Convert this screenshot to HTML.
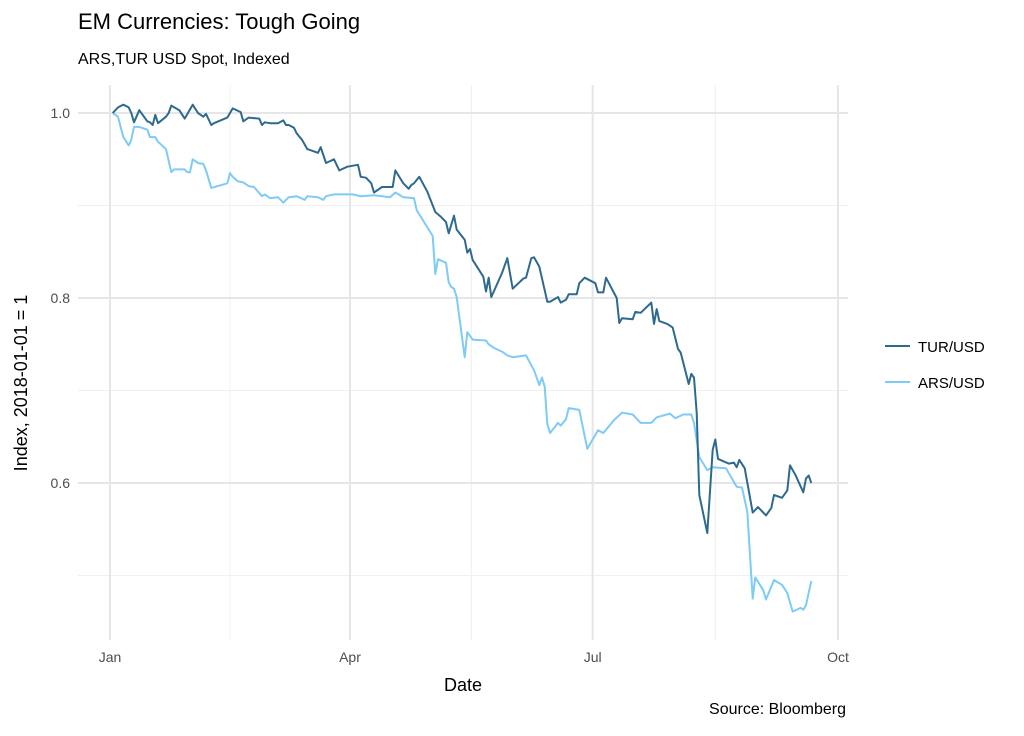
<!DOCTYPE html>
<html><head><meta charset="utf-8"><style>
body{margin:0;background:#fff;font-family:"Liberation Sans",sans-serif}
svg text{font-family:"Liberation Sans",sans-serif}
</style></head><body>
<svg width="1024" height="731" viewBox="0 0 1024 731">
<text x="78" y="29" font-size="22" fill="#000">EM Currencies: Tough Going</text>
<text x="78" y="64" font-size="16" fill="#000">ARS,TUR USD Spot, Indexed</text>
<g id="grid"></g>
<g id="axes"></g>
<g id="series"></g>
<text x="463" y="691" font-size="18" text-anchor="middle">Date</text>
<text transform="translate(27,383) rotate(-90)" font-size="18" text-anchor="middle">Index, 2018-01-01 = 1</text>
<text x="846" y="714" font-size="16" text-anchor="end">Source: Bloomberg</text>
<g>
<g><line x1="885" y1="346" x2="910" y2="346" stroke="#2e6a8e" stroke-width="2"/><text x="918" y="352" font-size="15">TUR/USD</text></g>
<g><line x1="885" y1="382" x2="910" y2="382" stroke="#7ecbf5" stroke-width="2"/><text x="918" y="388" font-size="15">ARS/USD</text></g>
</g>
</svg>
<script>
const turDays=[1,3,5,7,8,9,11,14,15,16,17,18,21,22,23,26,28,31,33,35,36,38,39,44,46,49,50,52,56,57,58,60,63,65,66,67,69,70,72,74,78,79,81,84,86,89,93,94,96,98,99,102,106,107,110,112,113,114,116,119,122,124,126,127,129,130,133,134,135,136,140,141,142,143,147,149,151,155,156,158,159,161,164,165,168,169,171,172,175,176,178,182,183,185,186,190,191,192,196,197,199,203,204,205,206,209,211,213,214,217,218,219,220,221,224,226,227,228,232,234,235,236,238,241,243,246,248,249,252,254,255,257,260,261,262,263];
const turVals=[1.000,1.006,1.009,1.006,1.000,0.990,1.003,0.991,0.990,0.987,0.998,0.989,0.996,1.000,1.008,1.003,0.994,1.009,1.000,0.996,0.999,0.987,0.989,0.995,1.005,1.001,0.991,0.995,0.994,0.987,0.990,0.989,0.989,0.992,0.987,0.987,0.984,0.978,0.971,0.961,0.957,0.963,0.946,0.950,0.938,0.942,0.944,0.931,0.930,0.924,0.914,0.920,0.920,0.938,0.924,0.918,0.922,0.924,0.931,0.915,0.893,0.888,0.882,0.870,0.889,0.874,0.863,0.849,0.853,0.841,0.823,0.807,0.822,0.801,0.827,0.843,0.810,0.821,0.822,0.843,0.844,0.834,0.796,0.796,0.801,0.795,0.798,0.804,0.804,0.816,0.822,0.816,0.806,0.806,0.822,0.800,0.773,0.778,0.777,0.785,0.784,0.795,0.772,0.788,0.775,0.772,0.768,0.745,0.741,0.707,0.718,0.714,0.676,0.587,0.546,0.636,0.647,0.626,0.621,0.622,0.617,0.625,0.616,0.568,0.574,0.565,0.573,0.587,0.584,0.592,0.619,0.609,0.590,0.605,0.608,0.600];
const arsDays=[1,3,5,7,8,9,11,14,15,17,18,21,23,24,28,29,30,31,33,35,36,38,44,45,46,48,50,52,54,57,58,60,63,65,67,70,73,74,78,80,81,84,91,94,99,105,107,110,114,115,121,122,123,126,127,128,129,130,133,134,136,141,142,144,147,149,151,156,159,161,162,163,164,165,168,169,171,172,176,179,183,185,189,192,196,199,201,203,205,210,212,215,218,219,221,224,226,231,235,237,239,241,242,245,246,249,252,254,256,259,260,261,263];
const arsVals=[1.000,0.996,0.974,0.965,0.971,0.985,0.985,0.982,0.974,0.974,0.969,0.961,0.936,0.939,0.939,0.936,0.936,0.950,0.946,0.945,0.938,0.919,0.924,0.935,0.931,0.926,0.925,0.921,0.920,0.910,0.912,0.908,0.909,0.903,0.909,0.910,0.906,0.910,0.909,0.906,0.910,0.912,0.912,0.910,0.911,0.909,0.914,0.909,0.908,0.895,0.867,0.826,0.842,0.838,0.817,0.812,0.810,0.801,0.736,0.763,0.755,0.754,0.750,0.746,0.742,0.738,0.736,0.738,0.722,0.706,0.714,0.704,0.664,0.654,0.665,0.662,0.669,0.681,0.679,0.637,0.657,0.654,0.668,0.676,0.674,0.665,0.665,0.665,0.671,0.675,0.670,0.674,0.674,0.665,0.628,0.614,0.617,0.616,0.596,0.595,0.569,0.475,0.498,0.484,0.474,0.495,0.490,0.481,0.461,0.465,0.463,0.468,0.494];
const yTicks=[0.6,0.8,1.0];
const yTickLabels=["0.6","0.8","1.0"];
const yMinor=[0.5,0.7,0.9];
const xTickDays=[0,90,181,273];
const xTickLabels=["Jan","Apr","Jul","Oct"];
const xMinorDays=[45,135.5,227];

const NS="http://www.w3.org/2000/svg";
const X=d=>110+d*(728/273);
const Y=v=>113+(1-v)*925;
const L=78,R=848,T=85,B=640;
function mk(tag,attrs,parent){const e=document.createElementNS(NS,tag);for(const k in attrs)e.setAttribute(k,attrs[k]);parent.appendChild(e);return e;}
const grid=document.getElementById('grid'),axes=document.getElementById('axes'),series=document.getElementById('series');
yMinor.forEach(v=>{const l=mk('line',{x1:L,x2:R,y1:Y(v),y2:Y(v),stroke:'#f0f0f0','stroke-width':1},grid);

});
xMinorDays.forEach(d=>{const l=mk('line',{x1:X(d),x2:X(d),y1:T,y2:B,stroke:'#f0f0f0','stroke-width':1},grid);

});
yTicks.forEach((v,i)=>{const l=mk('line',{x1:L,x2:R,y1:Y(v),y2:Y(v),stroke:'#e6e6e6','stroke-width':2},grid);


const t=mk('text',{x:70,y:Y(v)+5,'font-size':14,'text-anchor':'end',fill:'#4d4d4d'},axes);t.textContent=yTickLabels[i];

});
xTickDays.forEach((d,i)=>{const l=mk('line',{x1:X(d),x2:X(d),y1:T,y2:B,stroke:'#e6e6e6','stroke-width':2},grid);


const t=mk('text',{x:X(d),y:662,'font-size':14,'text-anchor':'middle',fill:'#4d4d4d'},axes);t.textContent=xTickLabels[i];

});
function line(days,vals,color,name){const p=mk('polyline',{points:days.map((d,i)=>X(d).toFixed(1)+','+Y(vals[i]).toFixed(1)).join(' '),fill:'none',stroke:color,'stroke-width':2,'stroke-linejoin':'round'},series);

}
line(arsDays,arsVals,'#7ecbf5','ars-usd-line');
line(turDays,turVals,'#2e6a8e','tur-usd-line');
</script>
</body></html>
